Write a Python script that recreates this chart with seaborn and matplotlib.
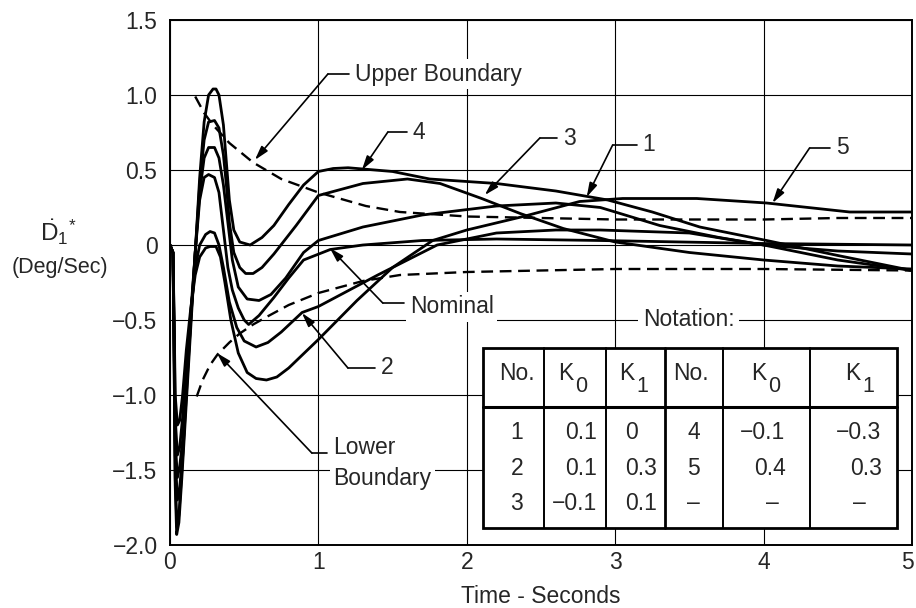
import matplotlib.pyplot as plt
import matplotlib.transforms as mtrans
import seaborn as sns
from matplotlib.patches import Rectangle

sns.set_theme(style="white")
plt.rcParams["font.family"] = ["Liberation Sans", "DejaVu Sans"]
plt.rcParams["mathtext.fontset"] = "custom"
plt.rcParams["mathtext.rm"] = "Liberation Sans"
plt.rcParams["mathtext.it"] = "Liberation Sans"

# ── response curves (time in s, rate in deg/s) ────────────────────────────
t_c4 = [0, .02, .028, .035, .045, .06, .08, .11, .14, .17, .20, .23, .26, .29, .31, .33,
        .36, .38, .40, .43, .47, .54, .62, .70, .80, .90, 1.0, 1.1, 1.2, 1.5, 1.75, 2.2,
        2.6, 2.95, 3.25, 3.57, 4.02, 4.5, 5.0]
y_c4 = [0, -.05, -.8, -1.6, -1.93, -1.85, -1.55, -1.05, -.55, -.05, .45, .82, 1.0, 1.04,
        1.04, 1.0, .8, .55, .3, .1, .02, 0.0, .05, .13, .27, .40, .49, .51, .515, .49,
        .44, .41, .36, .30, .22, .12, .03, -.07, -.17]

t_c3 = [0, .02, .028, .035, .047, .06, .08, .11, .14, .17, .20, .23, .26, .30, .33, .36,
        .38, .40, .43, .47, .51, .56, .62, .70, .85, 1.0, 1.3, 1.6, 1.82, 2.1, 2.36, 2.65,
        3.0, 3.5, 4.0, 4.5, 5.0]
y_c3 = [0, -.05, -.8, -1.55, -1.88, -1.8, -1.5, -1.0, -.5, -.05, .4, .7, .82, .83, .78,
        .6, .4, .15, -.05, -.15, -.19, -.19, -.15, -.06, .13, .33, .41, .44, .41, .31, .21,
        .11, .02, -.05, -.10, -.14, -.16]

t_c1 = [0, .02, .028, .035, .05, .065, .085, .11, .14, .17, .20, .23, .26, .30, .33, .36,
        .39, .42, .46, .52, .60, .68, .78, .90, 1.0, 1.3, 1.7, 2.2, 2.6, 2.9, 3.3, 3.7,
        4.0, 4.5, 5.0]
y_c1 = [0, -.05, -.7, -1.4, -1.7, -1.62, -1.4, -.95, -.5, -.05, .35, .58, .65, .65, .58,
        .4, .15, -.1, -.28, -.36, -.37, -.33, -.22, -.05, .03, .12, .20, .26, .28, .25,
        .13, .05, 0.0, -.04, -.06]

t_nom = [0, .02, .028, .035, .05, .065, .085, .11, .14, .17, .20, .23, .26, .30, .33, .36,
         .39, .42, .46, .50, .53, .60, .70, .80, .90, 1.08, 1.3, 1.7, 2.2, 2.9, 4.0, 5.0]
y_nom = [0, -.05, -.65, -1.3, -1.55, -1.48, -1.3, -.9, -.45, -.05, .3, .45, .47, .45, .35,
         .1, -.15, -.3, -.42, -.5, -.53, -.47, -.35, -.22, -.1, -.03, 0.0, .03, .04, .03,
         .01, 0.0]

t_c2 = [0, .02, .028, .035, .05, .065, .085, .11, .14, .17, .20, .24, .27, .30, .33, .36,
        .40, .45, .50, .58, .66, .75, .89, 1.0, 1.4, 1.8, 2.2, 2.6, 2.9, 3.5, 4.0, 4.5,
        5.0]
y_c2 = [0, -.05, -.55, -1.15, -1.4, -1.35, -1.15, -.8, -.45, -.15, .0, .07, .09, .08, .0,
        -.15, -.38, -.55, -.64, -.68, -.65, -.58, -.45, -.41, -.2, 0.0, .08, .10, .10, .08,
        0.0, -.10, -.17]

t_c5 = [0, .02, .028, .035, .05, .065, .085, .11, .14, .17, .20, .24, .27, .31, .34, .37,
        .41, .46, .52, .58, .65, .72, .80, 1.0, 1.26, 1.5, 1.77, 2.0, 2.38, 2.76, 3.05,
        3.55, 4.02, 4.58, 5.0]
y_c5 = [0, -.05, -.5, -1.0, -1.2, -1.17, -1.0, -.7, -.42, -.2, -.08, -.02, -.01, -.01,
        -.08, -.25, -.5, -.72, -.85, -.89, -.9, -.88, -.82, -.63, -.37, -.15, .03, .1,
        .19, .29, .31, .31, .28, .22, .22]

# ── dashed boundaries ─────────────────────────────────────────────────────
t_upper = [.17, .23, .29, .40, .56, .75, 1.0, 1.32, 1.55, 2.0, 2.5, 3.0, 3.5, 4.0, 4.5, 5.0]
y_upper = [.99, .88, .80, .68, .55, .44, .35, .26, .22, .19, .18, .17, .17, .17, .18, .18]

t_lower = [.18, .22, .27, .32, .40, .47, .56, .65, .80, 1.0, 1.3, 1.55, 2.0, 3.0, 4.0, 5.0]
y_lower = [-1.01, -.90, -.80, -.73, -.65, -.59, -.53, -.48, -.40, -.32, -.24, -.20, -.18,
           -.16, -.16, -.17]

solid = [(t_c4, y_c4), (t_c3, y_c3), (t_c1, y_c1), (t_nom, y_nom), (t_c2, y_c2), (t_c5, y_c5)]
dashed = [(t_upper, y_upper), (t_lower, y_lower)]

# ── labels: text, arrow tip (t, y) ───────────────────────────────────────
labels = ["Upper Boundary", "4", "3", "1", "5", "Nominal", "2", "Lower\nBoundary"]
tips = [(0.572, 0.567), (1.293, 0.50), (2.121, 0.333), (2.808, 0.32), (4.06, 0.28),
        (1.077, -0.02), (0.889, -0.453), (0.316, -0.72)]

# notation table
col_subs = ["", "0", "1", "", "0", "1"]
col_heads = ["No.", "K", "K", "No.", "K", "K"]
curve_no_a = ["1", "2", "3"]
k0_a = ["0.1", "0.1", "\u22120.1"]
k1_a = ["0", "0.3", "0.1"]
curve_no_b = ["4", "5", "\u2013"]
k0_b = ["\u22120.1", "0.4", "\u2013"]
k1_b = ["\u22120.3", "0.3", "\u2013"]

x_ticks = [0, 1, 2, 3, 4, 5]
y_ticks = [1.5, 1.0, 0.5, 0, -0.5, -1.0, -1.5, -2.0]
y_ticklabels = ["1.5", "1.0", "0.5", "0", "\u22120.5", "\u22121.0", "\u22121.5", "\u22122.0"]

FS = 16.5

fig, ax = plt.subplots(figsize=(9.16, 6.08), dpi=100)
fig.subplots_adjust(left=170 / 916, right=912 / 916, top=1 - 20 / 608, bottom=1 - 545 / 608)

for t, y in solid:
    sns.lineplot(x=t, y=y, ax=ax, color="black", lw=2.0, sort=False, estimator=None, zorder=4)
for t, y in dashed:
    sns.lineplot(x=t, y=y, ax=ax, color="black", lw=1.7, sort=False, estimator=None,
                 zorder=4).lines[-1].set_dashes((5, 2.8))

ax.set_xlim(0, 5)
ax.set_ylim(-2.0, 1.5)
ax.set_xticks(x_ticks)
ax.set_xticklabels([str(v) for v in x_ticks], fontsize=FS)
ax.set_yticks(y_ticks)
ax.set_yticklabels(y_ticklabels, fontsize=FS)
ax.tick_params(length=0)
ax.tick_params(axis="y", pad=9)
ax.tick_params(axis="x", pad=4)
# the last x label sits on the figure edge: nudge it inward
last = ax.get_xticklabels()[-1]
last.set_transform(last.get_transform() + mtrans.ScaledTranslation(-5 / 100, 0, fig.dpi_scale_trans))
ax.grid(True, color="black", lw=0.8)
for s in ax.spines.values():
    s.set_color("black")
    s.set_linewidth(1.4)
ax.set_xlabel("Time - Seconds", fontsize=FS, labelpad=8)

# y label
fig.text(58 / 916, 1 - 232 / 608, r"$\dot{\mathrm{D}}_{1}{}^{*}$", fontsize=FS + 1,
         ha="center", va="center")
fig.text(60 / 916, 1 - 267 / 608, "(Deg/Sec)", fontsize=FS - 1, ha="center", va="center")

# leader lines: text anchor, elbow, tip
text_pos = [(1.246, 1.14), (1.636, 0.753), (2.646, 0.713), (3.185, 0.667), (4.49, 0.647),
            (1.616, -0.413), (1.42, -0.82), (1.098, -1.37)]
elbows = [(1.064, 1.14), (1.468, 0.753), (2.492, 0.713), (2.983, 0.667), (4.31, 0.647),
          (1.434, -0.387), (1.199, -0.82), (0.956, -1.387)]
for lab, tp, el, tip in zip(labels, text_pos, elbows, tips):
    ax.plot([tp[0] - 0.04, el[0]], [el[1], el[1]], color="black", lw=1.2, zorder=5)
    ax.annotate("", xy=tip, xytext=el,
                arrowprops=dict(arrowstyle="-|>,head_length=0.7,head_width=0.2",
                                color="black", lw=1.2, shrinkA=0, shrinkB=0), zorder=5)
    va = "top" if "\n" in lab else "center"
    ty = tp[1] + (0.1 if "\n" in lab else 0)
    ax.text(tp[0], ty, lab, fontsize=FS, ha="left", va=va, zorder=6, linespacing=1.45,
            bbox=dict(boxstyle="square,pad=0.15", fc="white", ec="none"))

# notation box
ax.text(3.495, -0.5, "Notation:", fontsize=FS, ha="center", va="center", zorder=6,
        bbox=dict(boxstyle="square,pad=0.2", fc="white", ec="none"))
cols = [2.108, 2.519, 2.936, 3.333, 3.724, 4.316, 4.896]
top, mid, bot = -0.687, -1.08, -1.887
ax.add_patch(Rectangle((cols[0], bot), cols[-1] - cols[0], top - bot, fc="white",
                       ec="black", lw=2.0, zorder=5))
for i, c in enumerate(cols[1:-1]):
    ax.plot([c, c], [bot, top], color="black", lw=2.0 if i == 2 else 1.4, zorder=6)
ax.plot([cols[0], cols[-1]], [mid, mid], color="black", lw=2.2, zorder=6)

# header: big lowered subscripts as in the original lettering
head_x = [2.337, 2.72, 3.13, 3.51, 4.02, 4.655]
for hx, h, sub in zip(head_x, col_heads, col_subs):
    if sub:
        ax.text(hx, -0.86, h, fontsize=FS, ha="right", va="center", zorder=7)
        ax.text(hx + 0.01, -0.94, sub, fontsize=FS - 1, ha="left", va="center", zorder=7)
    else:
        ax.text(hx, -0.86, h, fontsize=FS, ha="center", va="center", zorder=7)

row_y = [-1.247, -1.487, -1.72]
cells = [(2.337, "center", curve_no_a), (2.875, "right", k0_a), (3.064, "left", k1_a),
         (3.529, "center", curve_no_b), (4.148, "right", k0_b[:2]), (4.795, "right", k1_b[:2])]
for cx, ha, vals in cells:
    for ry, v in zip(row_y, vals):
        ax.text(cx, ry, v, fontsize=FS, ha=ha, va="center", zorder=7)
for cx, v in [(4.06, k0_b[2]), (4.646, k1_b[2])]:
    ax.text(cx, row_y[2], v, fontsize=FS, ha="center", va="center", zorder=7)

fig.savefig("out.png", dpi=100)
